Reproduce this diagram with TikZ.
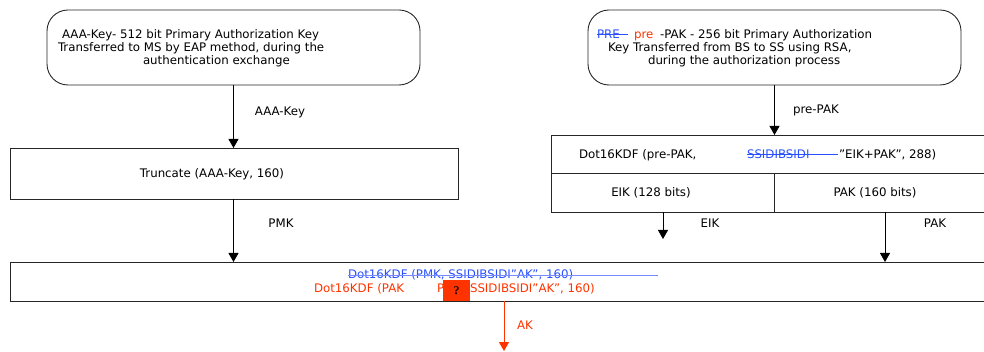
\documentclass[tikz,border=0pt]{standalone}
\usepackage{fontspec}
\setmainfont{DejaVu Sans}
\newfontfamily\qfont{Liberation Serif}
\usetikzlibrary{arrows.meta}
\definecolor{kblue}{RGB}{40,80,255}
\definecolor{kred}{RGB}{255,51,0}
\definecolor{kstrike}{RGB}{120,140,255}
\begin{document}
\begin{tikzpicture}[x=1pt,y=-1pt,
  font=\fontsize{11.8}{13.5}\selectfont,
  box/.style={draw=black!85, line width=0.9pt, inner sep=0pt, outer sep=0pt, anchor=north west},
  roundbox/.style={box, rounded corners=21pt},
  arr/.style={line width=0.9pt, -{Triangle[width=10pt,length=9pt]}},
  txt/.style={anchor=base west, inner sep=0pt, outer sep=0pt},
  lbl/.style={anchor=center, inner sep=0pt, outer sep=0pt}]
\useasboundingbox (0,0) rectangle (984,352);
\clip (0,0) rectangle (984,352);
% boxes
\node[roundbox, minimum width=373pt, minimum height=75pt] (lbox) at (47,10) {};
\node[roundbox, minimum width=373pt, minimum height=75pt] (rbox) at (588,10) {};
\node[box, minimum width=448pt, minimum height=51pt] (trunc) at (10,148) {};
\node[box, minimum width=440pt, minimum height=38pt] (kdf) at (551,135) {};
\node[box, minimum width=223pt, minimum height=39pt] (eik) at (551,173) {};
\node[box, minimum width=217pt, minimum height=39pt] (pak) at (774,173) {};
\node[box, minimum width=980pt, minimum height=39pt] (bot) at (10,262) {};
% left box text
\node[txt] (l1) at (62,39) {AAA-Key- 512 bit Primary Authorization Key};
\node[txt] (l2) at (58,52) {Transferred to MS by EAP method, during the};
\node[txt] (l3) at (143,65) {authentication exchange};
% right box text
\node[txt, text=kblue] (r1a) at (597,39) {PRE};
\draw[kblue, line width=0.8pt] (597,34.5) -- (628,34.5);
\node[txt, text=kred] (r1b) at (634,39) {pre};
\node[txt] (r1c) at (660,39) {-PAK - 256 bit Primary Authorization};
\node[txt] (r2) at (608,52) {Key Transferred from BS to SS using RSA,};
\node[txt] (r3) at (648,65) {during the authorization process};
% truncate
\node[lbl] (ttxt) at (212,174) {Truncate (AAA-Key, 160)};
% kdf row
\node[txt] (k1) at (579,159) {Dot16KDF (pre-PAK,};
\node[txt, text=kblue] (k2) at (747,159) {SSIDIBSIDI};
\draw[kblue, line width=0.8pt] (747,154.5) -- (838,154.5);
\node[txt] (k3) at (839,159) {”EIK+PAK”, 288)};
\node[lbl] (eiktxt) at (651,193) {EIK (128 bits)};
\node[lbl] (paktxt) at (875,193) {PAK (160 bits)};
% bottom box text
\node[txt, text=kblue] (b1) at (348,279) {Dot16KDF (PMK, SSIDIBSIDI”AK”, 160)};
\draw[kstrike, line width=1.2pt] (348,275.5) -- (658,275.5);
\node[txt, text=kred] (b2) at (314,293) {Dot16KDF (PAK};
\node[txt, text=kred] (b3) at (437,293) {P};
\fill[kred] (443,280) rectangle (470,301);
\node[lbl] (q) at (456.5,291) {\qfont\bfseries ?};
\node[txt, text=kred] (b4) at (470,293) {SSIDIBSIDI”AK”, 160)};
% arrow labels
\node[lbl] (la) at (280,112) {AAA-Key};
\node[lbl] (lp) at (816,110) {pre-PAK};
\node[lbl] (lpmk) at (281,223) {PMK};
\node[lbl] (leik) at (710,223) {EIK};
\node[lbl] (lpak) at (935,223) {PAK};
\node[lbl, text=kred] (lak) at (525,325) {AK};
% connectors
\coordinate (eikend) at (663,239);
\coordinate (pakx) at (885,0);
\coordinate (akend) at (504,351);
\draw[arr] (lbox.south) -- (lbox.south |- trunc.north);
\draw[arr] (trunc.south -| lbox.south) -- (bot.north -| lbox.south);
\draw[arr] (rbox.south) -- (rbox.south |- kdf.north);
\draw[arr] (eik.south -| eikend) -- (eikend);
\draw[arr] (pak.south -| pakx) -- (bot.north -| pakx);
\draw[arr, kred] (bot.south -| akend) -- (akend);
\end{tikzpicture}
\end{document}
